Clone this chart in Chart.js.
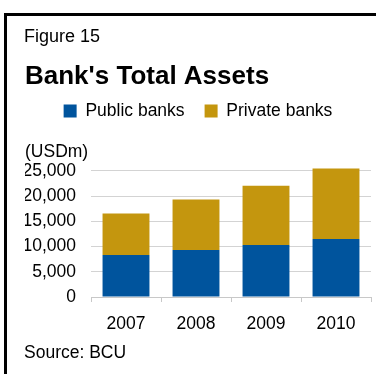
<!DOCTYPE html>
<html>
<head>
<meta charset="utf-8">
<script src="https://cdn.jsdelivr.net/npm/chart.js@4/dist/chart.umd.min.js"></script>
<style>
  html, body { margin: 0; padding: 0; background: #fff; }
  .wrap { position: relative; width: 377px; height: 374px; overflow: hidden; }
  .frame { position: absolute; left: 4px; top: 13px; width: 372px; height: 361px;
           border-top: 3px solid #000; border-left: 3px solid #000; box-sizing: border-box; }
  canvas { position: absolute; left: 0; top: 0; }
</style>
</head>
<body>
<div class="wrap">
  <div class="frame"></div>
  <canvas id="assetsChart" width="377" height="374"></canvas>
</div>
<script>
const years = ['2007', '2008', '2009', '2010']
const publicBanks = [8300, 9300, 10300, 11500]
const privateBanks = [8250, 10000, 11750, 13950]
const yTicks = [0, 5000, 10000, 15000, 20000, 25000]

const BLUE = '#00549d'
const GOLD = '#c4960e'
const FONT = '"Liberation Sans", Arial, sans-serif'

Chart.defaults.font.family = FONT
Chart.defaults.color = '#000'

// figure number above and source line below the chart
const figureText = {
  id: 'figureText',
  afterDraw (chart) {
    const ctx = chart.ctx
    ctx.save()
    ctx.fillStyle = '#000'
    ctx.textAlign = 'left'
    ctx.textBaseline = 'alphabetic'
    ctx.font = '18px ' + FONT
    ctx.fillText('Figure 15', 24, 42)
    ctx.font = '17.5px ' + FONT
    ctx.fillText('Source: BCU', 24, 358)
    ctx.restore()
  }
}

const ctx = document.getElementById('assetsChart').getContext('2d')

new Chart(ctx, {
  type: 'bar',
  data: {
    labels: years,
    datasets: [
      { label: 'Public banks', data: publicBanks, backgroundColor: BLUE, borderWidth: 0 },
      { label: 'Private banks', data: privateBanks, backgroundColor: GOLD, borderWidth: 0 }
    ]
  },
  options: {
    responsive: false,
    animation: false,
    devicePixelRatio: 1,
    clip: false,
    barPercentage: 0.67,
    categoryPercentage: 1,
    layout: { padding: { left: 25, right: 6, top: 0, bottom: 27 } },
    plugins: {
      title: {
        display: true,
        text: "Bank's Total Assets",
        align: 'start',
        font: { size: 26, weight: 'bold', lineHeight: 0.45 },
        padding: { top: 70.6, bottom: 0 }
      },
      legend: {
        display: true,
        position: 'top',
        labels: {
          boxWidth: 13,
          boxHeight: 13,
          padding: 20,
          font: { size: 17.5 }
        }
      },
      subtitle: {
        display: true,
        text: '(USDm)',
        align: 'start',
        weight: 500,
        font: { size: 17.5, lineHeight: 1.2 },
        padding: { top: 12.25, bottom: 7.75 }
      },
      tooltip: { enabled: false }
    },
    scales: {
      x: {
        stacked: true,
        border: { display: true, color: '#c8c8c8' },
        grid: {
          display: true,
          offset: true,
          drawOnChartArea: false,
          drawTicks: true,
          tickLength: 5,
          color: '#c8c8c8'
        },
        ticks: { padding: 12, font: { size: 17.5 } }
      },
      y: {
        stacked: true,
        min: 0,
        max: 25000,
        afterFit: (scale) => { scale.width = 66 },
        afterBuildTicks: (scale) => { scale.ticks = yTicks.map(v => ({ value: v })) },
        border: { display: false },
        grid: { color: '#d3d3d3', drawTicks: false },
        ticks: { padding: 15, font: { size: 17.5 } }
      }
    }
  },
  plugins: [figureText]
})
</script>
</body>
</html>
